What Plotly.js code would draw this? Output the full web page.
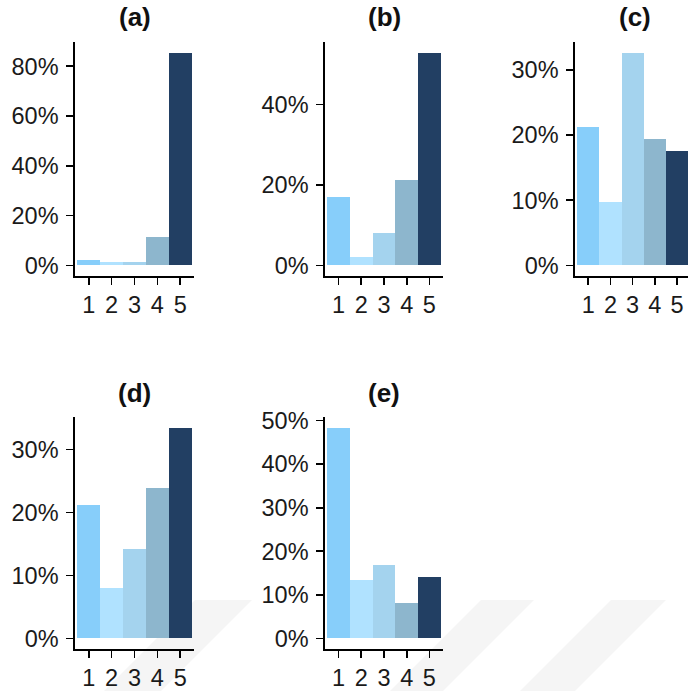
<!DOCTYPE html>
<html>
<head>
<meta charset="utf-8">
<script src="https://cdn.plot.ly/plotly-3.0.1.min.js"></script>
<style>
  html, body { margin: 0; padding: 0; background: #fff; overflow: hidden; }
  #chart { width: 688px; height: 691px; }
</style>
</head>
<body>
<div id="chart"></div>
<script>
// ---- Data (percent of responses per rating 1..5) ----
const categories = [1, 2, 3, 4, 5];
const tickLabels = ['1', '2', '3', '4', '5'];
const panelTitles = ['(a)', '(b)', '(c)', '(d)', '(e)'];
const valuesA = [2.1, 1.2, 1.2, 11.6, 85.5];
const valuesB = [16.9, 2.0, 8.1, 21.2, 52.9];
const valuesC = [21.2, 9.8, 32.7, 19.5, 17.6];
const valuesD = [21.2, 8.0, 14.2, 23.9, 33.5];
const valuesE = [48.4, 13.4, 16.8, 8.1, 14.2];
const yTickStep = [20, 20, 10, 10, 10];

const barColors = ['#87CEFA', '#B0E2FF', '#A4D3EE', '#8DB6CD', '#223F63'];

const W = 688, H = 691;
const px = v => v / W;
const py = v => 1 - v / H;

// panel boxes in pixels: [left, right, top, bottom], x-range max
const boxes = [
  {l: 75, r: 194, t: 42, b: 276, xmax: 5.6},
  {l: 325, r: 443, t: 42, b: 276, xmax: 5.6},
  {l: 575, r: 688, t: 42, b: 276, xmax: 5.5},
  {l: 75, r: 194, t: 417, b: 649, xmax: 5.6},
  {l: 325, r: 443, t: 417, b: 649, xmax: 5.6}
];
const allValues = [valuesA, valuesB, valuesC, valuesD, valuesE];

const font = 'Liberation Sans, Arial, Helvetica, sans-serif';
const traces = [];
const layout = {
  width: W, height: H,
  margin: {l: 0, r: 0, t: 0, b: 0},
  paper_bgcolor: '#ffffff',
  plot_bgcolor: 'rgba(0,0,0,0)',
  showlegend: false,
  bargap: 0,
  annotations: [],
  shapes: []
};

allValues.forEach((vals, i) => {
  const sfx = i === 0 ? '' : String(i + 1);
  const bx = boxes[i];
  traces.push({
    type: 'bar',
    x: categories,
    y: vals,
    width: 1,
    marker: {color: barColors, line: {width: 0}},
    xaxis: 'x' + sfx,
    yaxis: 'y' + sfx,
    hoverinfo: 'x+y'
  });
  const vmax = Math.max(...vals);
  const common = {
    showgrid: false, zeroline: false,
    showline: true, linecolor: '#000', linewidth: 1.7,
    ticks: 'outside', ticklen: 7, tickwidth: 1.7, tickcolor: '#000',
    tickfont: {family: font, size: 23.5, color: '#1a1a1a'},
    fixedrange: true
  };
  layout['xaxis' + sfx] = Object.assign({}, common, {
    domain: [px(bx.l), px(bx.r)],
    anchor: 'y' + sfx,
    range: [0.4, bx.xmax],
    tickmode: 'array',
    tickvals: categories,
    ticktext: tickLabels
  });
  layout['yaxis' + sfx] = Object.assign({}, common, {
    domain: [py(bx.b), py(bx.t)],
    anchor: 'x' + sfx,
    range: [-0.05 * vmax, 1.05 * vmax],
    tick0: 0,
    dtick: yTickStep[i],
    ticksuffix: '%',
    ticklabelstandoff: 3
  });
  layout.annotations.push({
    xref: 'paper', yref: 'paper',
    x: px((bx.l + (i === 2 ? 694 : bx.r)) / 2),
    y: py(i < 3 ? 17 : 393),
    xanchor: 'center', yanchor: 'middle',
    text: '<b>' + panelTitles[i] + '</b>',
    showarrow: false,
    font: {family: font, size: 26, color: '#111'}
  });
});

// faint background watermark stripes
const stripes = [[195, 252], [481, 534], [611, 666]];
stripes.forEach(s => {
  const top = 600, bot = H, d = bot - top;
  layout.shapes.push({
    type: 'path', xref: 'paper', yref: 'paper', layer: 'below',
    path: `M ${px(s[0])} ${py(top)} L ${px(s[1])} ${py(top)} L ${px(s[1] - d)} ${py(bot)} L ${px(s[0] - d)} ${py(bot)} Z`,
    fillcolor: '#f5f5f5', line: {width: 0}
  });
});

Plotly.newPlot('chart', traces, layout, {displayModeBar: false, staticPlot: true});
</script>
</body>
</html>
